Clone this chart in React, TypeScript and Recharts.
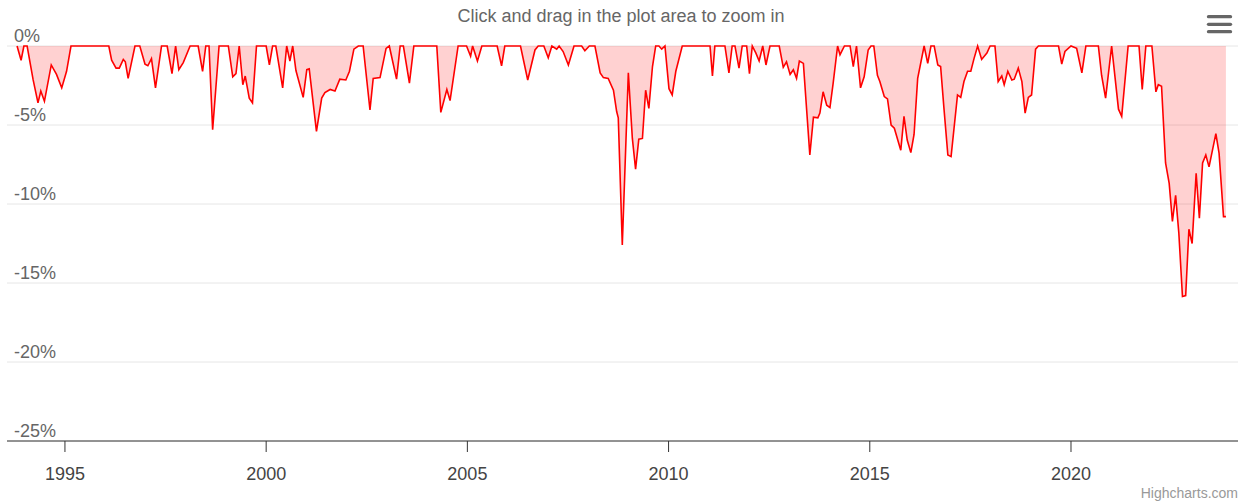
import React from "react";
import { AreaChart, Area, XAxis, YAxis, CartesianGrid } from "recharts";

// drawdown (%), by period
const dates1990s = [
  1993.81, 1993.91, 1993.98, 1994.06, 1994.21, 1994.33, 1994.4, 1994.49, 1994.66, 1994.79, 1994.92, 1995.04, 1995.15,
  1996.09, 1996.16, 1996.27, 1996.35, 1996.45, 1996.5, 1996.57,
  1996.74, 1996.86, 1996.99, 1997.06, 1997.15, 1997.25, 1997.4, 1997.54, 1997.66, 1997.75, 1997.83, 1997.94,
  1998.11, 1998.31, 1998.42, 1998.5, 1998.58, 1998.67, 1998.83, 1999.06,
  1999.17, 1999.25, 1999.33, 1999.42, 1999.48, 1999.58, 1999.66, 1999.76,
];
const values1990s = [
  0, -0.9, 0, 0, -2.15, -3.6, -2.85, -3.5, -1.2, -1.8, -2.65, -1.6, 0,
  0, -0.9, -1.4, -1.4, -0.85, -1.0, -2.05,
  0, 0, -1.15, -1.25, -0.8, -2.65, 0, 0, -1.75, 0, -1.5, -1.05,
  0, 0, -1.6, 0, 0, -5.3, 0, 0,
  -1.95, -1.75, 0, -2.45, -1.9, -3.3, -3.6, 0,
];

const dates2000s = [
  2000.0, 2000.08, 2000.16, 2000.24, 2000.41, 2000.51, 2000.59, 2000.66, 2000.74, 2000.92, 2001.01, 2001.07,
  2001.25, 2001.38, 2001.46, 2001.59, 2001.71, 2001.83, 2001.98, 2002.07, 2002.18, 2002.29, 2002.41,
  2002.58, 2002.66, 2002.83, 2002.98, 2003.06, 2003.24, 2003.33, 2003.41, 2003.56, 2003.67,
  2004.24, 2004.34, 2004.49, 2004.57, 2004.77, 2004.98, 2005.08, 2005.13, 2005.25, 2005.36,
  2005.74, 2005.85, 2005.93, 2006.32, 2006.5, 2006.68, 2006.76, 2006.9, 2007.01, 2007.1,
  2007.22, 2007.28, 2007.38, 2007.51, 2007.65, 2007.84, 2007.92, 2008.03, 2008.17,
];
const values2000s = [
  0, -1.2, 0, 0, -2.65, 0, -0.95, 0, -1.55, -3.25, -1.5, -1.45,
  -5.4, -3.3, -2.95, -2.75, -2.85, -2.1, -2.15, -1.6, -0.2, 0, 0,
  -4.05, -2.05, -2.0, -0.15, 0, -2.1, 0, 0, -2.35, 0,
  0, -4.2, -2.75, -3.45, 0, 0, -0.65, 0, -0.95, 0,
  0, -1.25, 0, 0, -2.15, -0.25, 0, 0, -0.75, 0,
  -0.2, 0, -0.35, -1.2, 0, 0, -0.3, 0, 0,
];

const dates2010s = [
  2008.3, 2008.38, 2008.5, 2008.63, 2008.71, 2008.75, 2008.85, 2009.0, 2009.1, 2009.18,
  2009.26, 2009.35, 2009.43, 2009.51, 2009.6, 2009.68, 2009.76, 2009.83, 2009.91,
  2010.01, 2010.09, 2010.18, 2010.34, 2011.03, 2011.09, 2011.15, 2011.4,
  2011.5, 2011.58, 2011.65, 2011.75, 2011.83, 2011.94, 2012.01, 2012.08,
  2012.17, 2012.25, 2012.34, 2012.42, 2012.52, 2012.75, 2012.85, 2012.93,
  2013.02, 2013.1, 2013.18, 2013.25, 2013.35, 2013.51, 2013.6, 2013.71,
  2013.76, 2013.84, 2013.93, 2014.01, 2014.09, 2014.2, 2014.26, 2014.37, 2014.51,
  2014.59, 2014.67, 2014.77, 2014.86, 2014.96, 2015.03, 2015.1,
  2015.19, 2015.25, 2015.36, 2015.44, 2015.53, 2015.61, 2015.77, 2015.85, 2015.93, 2016.02, 2016.1, 2016.19,
  2016.35, 2016.44, 2016.52, 2016.6, 2016.69, 2016.76, 2016.84, 2016.94, 2017.02,
  2017.18, 2017.26, 2017.34, 2017.43, 2017.51, 2017.59, 2017.68, 2017.78, 2017.91, 2017.99, 2018.11,
  2018.19, 2018.28, 2018.34, 2018.43, 2018.53, 2018.59, 2018.69, 2018.78, 2018.86, 2018.94, 2019.02, 2019.12, 2019.19,
];
const values2010s = [
  -1.7, -2.0, -2.05, -2.8, -4.15, -4.55, -12.6, -1.7, -5.85, -7.8,
  -5.9, -5.85, -2.8, -3.95, -1.3, 0, 0, -0.2, 0,
  -2.7, -3.1, -1.6, 0, 0, -1.9, 0, 0,
  -1.7, 0, 0, -1.4, 0, 0, -1.75, 0,
  -0.45, -0.95, 0, -1.2, 0, 0, -1.35, -1.0,
  -1.8, -1.5, -2.05, -0.95, -1.1, -6.9, -4.5, -4.55,
  -4.25, -2.9, -3.75, -3.9, -2.35, 0, -0.55, 0, 0,
  -1.3, 0, -2.65, -1.95, -0.25, 0, 0,
  -1.85, -2.25, -3.2, -3.35, -5.0, -5.2, -6.6, -4.45, -5.95, -6.75, -5.6, -2.05,
  0, -1.1, 0, 0, -1.2, -1.3, -3.85, -6.9, -7.0,
  -3.1, -3.25, -2.25, -1.6, -1.6, -0.8, 0, -0.85, -0.45, 0, 0,
  -2.25, -1.9, -2.45, -1.6, -2.15, -2.1, -1.4, -2.25, -4.25, -3.25, -3.1, -0.2, 0,
];

const dates2020s = [
  2019.69, 2019.77, 2019.85, 2020.0, 2020.14, 2020.27, 2020.37,
  2020.68, 2020.76, 2020.86, 2021.01, 2021.18, 2021.26, 2021.42, 2021.69, 2021.77, 2021.86, 2022.01,
  2022.11, 2022.17, 2022.25, 2022.35, 2022.44, 2022.52, 2022.6, 2022.68, 2022.77, 2022.85, 2022.93,
  2023.01, 2023.11, 2023.19, 2023.27, 2023.35, 2023.43, 2023.6, 2023.68, 2023.79, 2023.85,
];
const values2020s = [
  0, -1.15, -0.35, 0, -0.15, -1.7, 0,
  0, -1.85, -3.3, 0, -4.0, -4.45, 0, 0, -2.75, 0, 0,
  -2.9, -2.45, -2.55, -7.4, -8.7, -11.1, -9.45, -11.85, -15.85, -15.8, -11.6,
  -12.5, -8.05, -10.9, -7.4, -6.9, -7.65, -5.55, -6.8, -10.8, -10.8,
];

const yearTicks = [1995, 2000, 2005, 2010, 2015, 2020];
const pctTicks = [0, -5, -10, -15, -20, -25];

const dates = [...dates1990s, ...dates2000s, ...dates2010s, ...dates2020s];
const values = [...values1990s, ...values2000s, ...values2010s, ...values2020s];
const data = dates.map((t, i) => ({ t, dd: values[i] }));

const font = "'Liberation Sans', Arial, Helvetica, sans-serif";

const YTick = (props: any) => (
  <text x={14} y={props.y - 4} fill="#666" fontSize={18} fontFamily={font} textAnchor="start">
    {props.payload.value}%
  </text>
);

const XTick = (props: any) => (
  <text x={props.x} y={480} fill="#444" fontSize={18} fontFamily={font} textAnchor="middle">
    {props.payload.value}
  </text>
);

export default function App() {
  return (
    <div style={{ position: "absolute", left: 0, top: 0, width: 1242, height: 504, background: "#fff", fontFamily: font }}>
      <AreaChart width={1242} height={504} data={data} margin={{ top: 46, right: 4, bottom: 0, left: 6 }}>
        <CartesianGrid vertical={false} stroke="#e6e6e6" />
        <XAxis
          dataKey="t"
          type="number"
          domain={[1993.56, 2024.15]}
          ticks={yearTicks}
          height={63}
          stroke="#333"
          tickSize={11}
          tick={<XTick />}
          allowDataOverflow
        />
        <YAxis
          type="number"
          domain={[-25, 0]}
          ticks={pctTicks}
          width={1}
          axisLine={false}
          tickLine={false}
          tick={<YTick />}
        />
        <Area
          type="linear"
          dataKey="dd"
          stroke="#ff0000"
          strokeWidth={1.6}
          fill="#ff0000"
          fillOpacity={0.18}
          baseValue={0}
          dot={false}
          activeDot={false}
          isAnimationActive={false}
        />
      </AreaChart>
      <div
        style={{
          position: "absolute",
          left: 0,
          top: 5,
          width: 1242,
          textAlign: "center",
          fontSize: 18,
          color: "#666",
          lineHeight: "22px",
        }}
      >
        Click and drag in the plot area to zoom in
      </div>
      <svg style={{ position: "absolute", left: 1200, top: 8, width: 40, height: 32 }}>
        {[8.7, 16.3, 23.7].map((y) => (
          <line key={y} x1={8.5} x2={30.5} y1={y} y2={y} stroke="#666" strokeWidth={3.3} strokeLinecap="round" />
        ))}
      </svg>
      <div style={{ position: "absolute", right: 4, top: 484, fontSize: 14, color: "#999", lineHeight: "18px" }}>
        Highcharts.com
      </div>
    </div>
  );
}
